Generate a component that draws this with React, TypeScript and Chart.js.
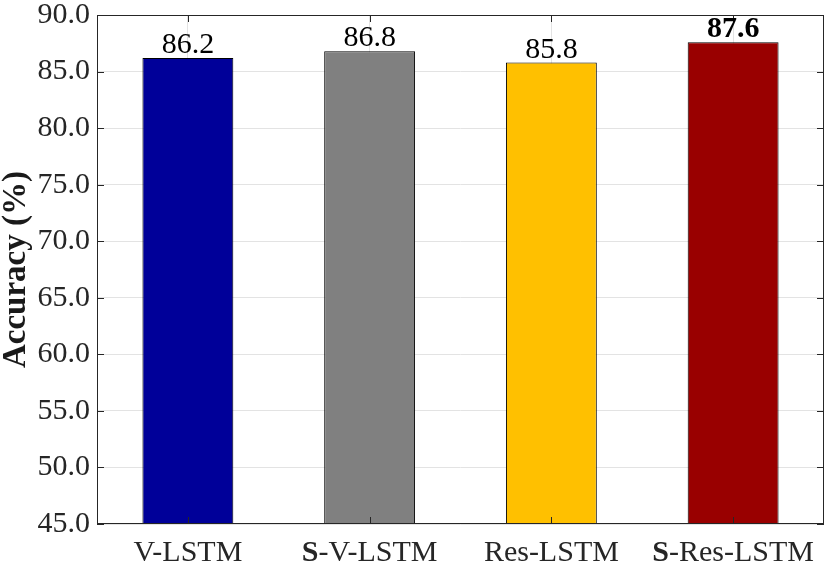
import { useEffect, useRef } from 'react';
import { Chart, registerables } from 'chart.js';

Chart.register(...registerables);

const categories = ['V-LSTM', 'S-V-LSTM', 'Res-LSTM', 'S-Res-LSTM'];
const accuracy = [86.2, 86.8, 85.8, 87.6];
const barColors = ['#000099', '#808080', '#FFC000', '#990000'];
const boldValue = [false, false, false, true];
const yMin = 45;
const yMax = 90;
const yStep = 5;
const yTitle = 'Accuracy (%)';

const FONT = "'Liberation Serif', 'Times New Roman', serif";
const AXIS = '#262626';
const FS = 30;

const overlay = {
  id: 'overlay',
  afterDatasetsDraw(chart: any) {
    const { ctx, chartArea: a, scales } = chart;
    const xs = scales.x;
    const ys = scales.y;
    ctx.save();
    ctx.strokeStyle = AXIS;
    ctx.lineWidth = 1;
    const L = 7;
    ctx.beginPath();
    categories.forEach((_, i) => {
      const px = Math.round(xs.getPixelForValue(i)) + 0.5;
      ctx.moveTo(px, a.bottom);
      ctx.lineTo(px, a.bottom - L);
      ctx.moveTo(px, a.top);
      ctx.lineTo(px, a.top + L);
    });
    for (let v = yMin; v <= yMax + 1e-9; v += yStep) {
      const py = Math.round(ys.getPixelForValue(v)) + 0.5;
      ctx.moveTo(a.left, py);
      ctx.lineTo(a.left + L, py);
      ctx.moveTo(a.right, py);
      ctx.lineTo(a.right - L, py);
    }
    ctx.stroke();
    ctx.strokeRect(Math.round(a.left) + 0.5, Math.round(a.top) + 0.5, Math.round(a.right - a.left) - 1, Math.round(a.bottom - a.top) - 1);

    // value labels
    const meta = chart.getDatasetMeta(0);
    ctx.fillStyle = '#000';
    ctx.textAlign = 'center';
    ctx.textBaseline = 'alphabetic';
    meta.data.forEach((bar: any, i: number) => {
      ctx.font = `${boldValue[i] ? 'bold ' : ''}${FS}px ${FONT}`;
      ctx.fillText(accuracy[i].toFixed(1), bar.x, bar.y - 5);
    });

    // category labels with bold "S" prefix
    ctx.fillStyle = AXIS;
    ctx.textAlign = 'left';
    categories.forEach((lab, i) => {
      const cx = xs.getPixelForValue(i);
      const parts: [string, boolean][] = lab.startsWith('S-')
        ? [['S', true], [lab.slice(1), false]]
        : [[lab, false]];
      let total = 0;
      const widths = parts.map(([t, b]) => {
        ctx.font = `${b ? 'bold ' : ''}${FS}px ${FONT}`;
        const w = ctx.measureText(t).width;
        total += w;
        return w;
      });
      let x0 = cx - total / 2;
      parts.forEach(([t, b], k) => {
        ctx.font = `${b ? 'bold ' : ''}${FS}px ${FONT}`;
        ctx.fillText(t, x0, a.bottom + 37);
        x0 += widths[k];
      });
    });
    ctx.restore();
  },
};

export default function App() {
  const ref = useRef<HTMLCanvasElement | null>(null);
  useEffect(() => {
    if (!ref.current) return;
    const chart = new Chart(ref.current, {
      type: 'bar',
      data: {
        labels: categories,
        datasets: [
          {
            data: accuracy,
            backgroundColor: barColors,
            borderColor: '#000',
            borderWidth: 1,
            barPercentage: 0.5,
            categoryPercentage: 1,
          },
        ],
      },
      options: {
        responsive: false,
        animation: false,
        layout: { padding: { top: 15, right: 6, left: 0, bottom: 0 } },
        plugins: { legend: { display: false }, tooltip: { enabled: false } },
        scales: {
          x: {
            grid: { offset: false, color: '#e3e3e3', drawTicks: false },
            border: { display: false },
            ticks: { display: false },
            afterFit: (s: any) => {
              s.height = 45;
              s.paddingLeft = 0;
              s.paddingRight = 0;
            },
          },
          y: {
            min: yMin,
            max: yMax,
            grid: { color: '#e3e3e3', drawTicks: false },
            border: { display: false },
            ticks: {
              stepSize: yStep,
              padding: 7,
              color: AXIS,
              font: { family: FONT, size: FS },
              callback: (v: any) => Number(v).toFixed(1),
            },
            title: {
              display: true,
              text: yTitle,
              color: '#1a1a1a',
              font: { family: FONT, size: 33, weight: 'bold', lineHeight: 1 },
              padding: { top: 0, bottom: 0 },
            },
            afterFit: (s: any) => {
              s.width = 97;
              s.paddingTop = 0;
              s.paddingBottom = 0;
            },
          },
        },
      },
      plugins: [overlay],
    });
    return () => chart.destroy();
  }, []);
  return (
    <div style={{ position: 'fixed', left: 0, top: 0, width: 830, height: 569, background: '#fff' }}>
      <canvas ref={ref} width={830} height={569} />
    </div>
  );
}
